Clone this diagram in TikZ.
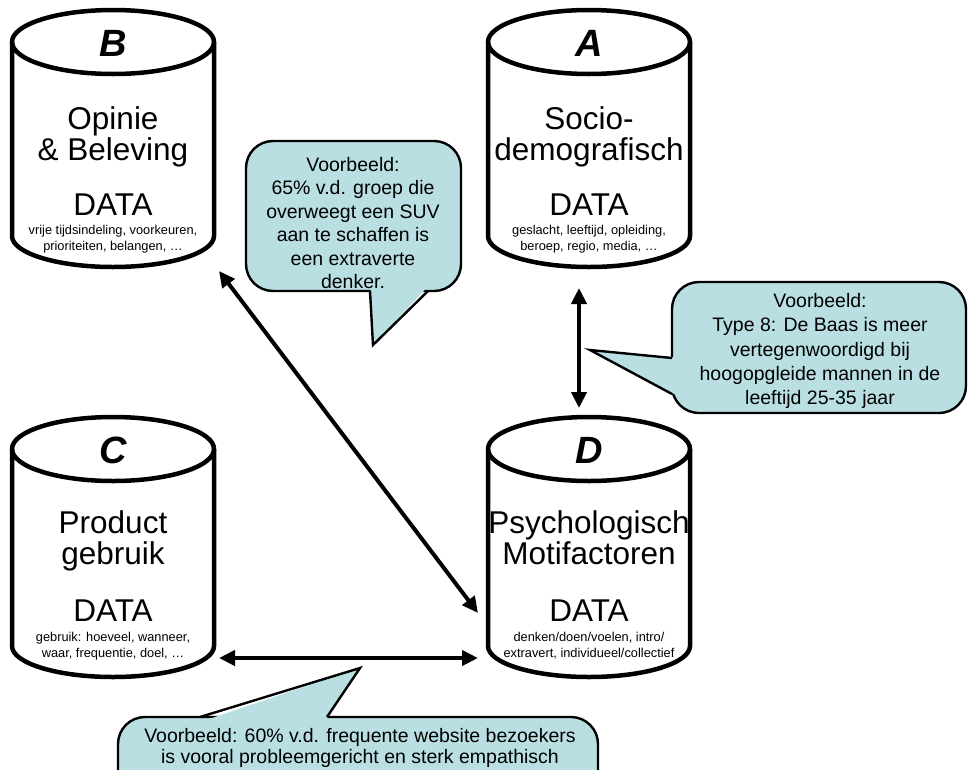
\documentclass[tikz,border=0pt]{standalone}
\usepackage{fontspec}
\setmainfont{Liberation Sans}
\usetikzlibrary{arrows.meta}
\definecolor{callfill}{RGB}{185,223,227}
\newcommand\mycyl[3]{%
  \draw[cylline] ({#1-101},#2) -- ({#1-101},#3)
    .. controls ({#1-101},{#3+0.5523*31}) and ({#1-0.5523*101},{#3+31}) .. ({#1},{#3+31})
    .. controls ({#1+0.5523*101},{#3+31}) and ({#1+101},{#3+0.5523*31}) .. ({#1+101},#3)
    -- ({#1+101},#2);
  \draw[cylline] (#1,#2) ellipse [x radius=101, y radius=32];
}
\begin{document}
\begin{tikzpicture}[x=1pt,y=-1pt,
  cylline/.style={line width=4.5pt,line join=round},
  calloutbox/.style={fill=callfill,draw=black,line width=2.4pt,rounded corners=27pt},
  tailedge/.style={draw=black,line width=2.4pt,line join=miter},
  dblarrow/.style={line width=4pt,{Triangle[length=16pt,width=15pt]}-{Triangle[length=16pt,width=15pt]}},
  lettertxt/.style={font=\fontsize{38}{38}\selectfont\bfseries\itshape,inner sep=0pt,anchor=base},
  maintxt/.style={font=\fontsize{31.5}{31.5}\selectfont,inner sep=0pt,anchor=base},
  smalltxt/.style={font=\fontsize{12.8}{12.8}\selectfont,inner sep=0pt,anchor=base},
  calltxt/.style={font=\fontsize{19.5}{19.5}\selectfont,inner sep=0pt,anchor=base}]
\useasboundingbox (0,0) rectangle (969,769);

% cylinders
\mycyl{113}{42}{236}
\mycyl{589}{42}{236}
\mycyl{113}{449}{646}
\mycyl{589}{449}{646}

% B
\node[lettertxt] (bL) at (113,56) {B};
\node[maintxt] (b1) at (113,129) {Opinie};
\node[maintxt] (b2) at (113,160) {\& Beleving};
\node[maintxt] (b3) at (113,215) {DATA};
\node[smalltxt] (b4) at (113,234) {vrije tijdsindeling, voorkeuren,};
\node[smalltxt] (b5) at (113,250) {prioriteiten, belangen, …};
% A
\node[lettertxt] (aL) at (589,56) {A};
\node[maintxt] (a1) at (589,129) {Socio-};
\node[maintxt] (a2) at (589,160) {demografisch};
\node[maintxt] (a3) at (589,215) {DATA};
\node[smalltxt] (a4) at (589,234) {geslacht, leeftijd, opleiding,};
\node[smalltxt] (a5) at (589,250) {beroep, regio, media, …};
% C
\node[lettertxt] (cL) at (113,463) {C};
\node[maintxt] (c1) at (113,533) {Product};
\node[maintxt] (c2) at (113,564) {gebruik};
\node[maintxt] (c3) at (113,621) {DATA};
\node[smalltxt] (c4) at (113,641) {gebruik: hoeveel, wanneer,};
\node[smalltxt] (c5) at (113,657) {waar, frequentie, doel, …};
% D
\node[lettertxt] (dL) at (589,463) {D};
\node[maintxt] (d1) at (589,533) {Psychologisch};
\node[maintxt] (d2) at (589,564) {Motifactoren};
\node[maintxt] (d3) at (589,621) {DATA};
\node[smalltxt] (d4) at (589,641) {denken/doen/voelen, intro/};
\node[smalltxt] (d5) at (589,657) {extravert, individueel/collectief};

% arrows
\coordinate (aBot) at (579,288);
\coordinate (dTop) at (579,408);
\coordinate (bCorner) at (219,271);
\coordinate (dLeft) at (478,613);
\coordinate (cRight) at (219,658);
\coordinate (dLeftLow) at (478,658);
\draw[dblarrow] (aBot) -- (dTop);
\draw[dblarrow] (bCorner) -- (dLeft);
\draw[dblarrow] (cRight) -- (dLeftLow);

% callout 1
\path[calloutbox] (246,141) rectangle (461,291);
\fill[callfill] (370.5,287) -- (373,345) -- (427.5,287) -- cycle;
\draw[tailedge] (370,291) -- (373,345) -- (428,291);
\node[calltxt] (k1) at (353,171) {Voorbeeld:};
\node[calltxt] (k2) at (353,194.5) {65\% v.d. groep die};
\node[calltxt] (k3) at (353,218) {overweegt een SUV};
\node[calltxt] (k4) at (353,241.5) {aan te schaffen is};
\node[calltxt] (k5) at (353,265) {een extraverte};
\node[calltxt] (k6) at (353,288) {denker.};

% callout 2
\path[calloutbox] (672,282) rectangle (966,413);
\fill[callfill] (675,357.5) -- (590,350) -- (675,394.5) -- cycle;
\draw[tailedge] (672,358) -- (590,350) -- (672,394);
\node[calltxt] (m1) at (820,307) {Voorbeeld:};
\node[calltxt] (m2) at (820,331) {Type 8: De Baas is meer};
\node[calltxt] (m3) at (820,356) {vertegenwoordigd bij};
\node[calltxt] (m4) at (820,380) {hoogopgleide mannen in de};
\node[calltxt] (m5) at (820,404) {leeftijd 25-35 jaar};

% callout 3
\path[calloutbox] (118,717) rectangle (598,800);
\fill[callfill] (206,720) -- (360,668) -- (326,720) -- cycle;
\draw[tailedge] (200,717) -- (360,668) -- (327,717);
\node[calltxt] (n1) at (360,742) {Voorbeeld: 60\% v.d. frequente website bezoekers};
\node[calltxt] (n2) at (360,763) {is vooral probleemgericht en sterk empathisch};
\end{tikzpicture}
\end{document}
